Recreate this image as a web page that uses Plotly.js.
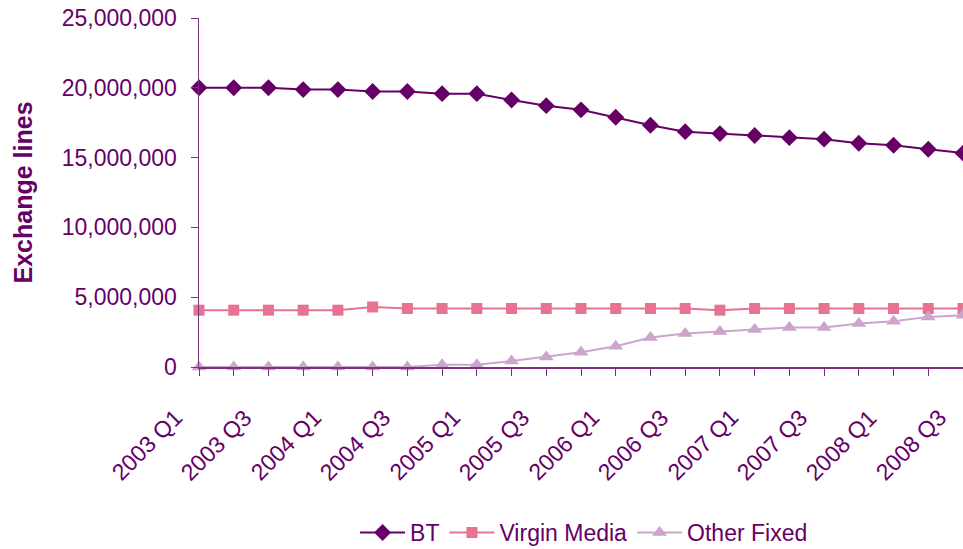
<!DOCTYPE html>
<html>
<head>
<meta charset="utf-8">
<script src="https://cdn.plot.ly/plotly-3.0.1.min.js"></script>
<style>
html,body{margin:0;padding:0;background:#fff;overflow:hidden;}
#chart{width:963px;height:549px;}
</style>
</head>
<body>
<div id="chart"></div>
<script>
var quarters = ["2003 Q1","2003 Q2","2003 Q3","2003 Q4","2004 Q1","2004 Q2","2004 Q3","2004 Q4",
  "2005 Q1","2005 Q2","2005 Q3","2005 Q4","2006 Q1","2006 Q2","2006 Q3","2006 Q4",
  "2007 Q1","2007 Q2","2007 Q3","2007 Q4","2008 Q1","2008 Q2","2008 Q3"];
var tickLabels = ["2003 Q1","","2003 Q3","","2004 Q1","","2004 Q3","","2005 Q1","","2005 Q3","",
  "2006 Q1","","2006 Q3","","2007 Q1","","2007 Q3","","2008 Q1","","2008 Q3"];
var yTitle = "Exchange lines";
var bt = [20000000,20000000,20000000,19870000,19870000,19730000,19730000,19580000,19580000,
  19130000,18720000,18420000,17890000,17320000,16860000,16720000,16580000,16430000,16320000,
  16030000,15890000,15600000,15320000];
var virgin = [4070000,4070000,4070000,4070000,4070000,4300000,4190000,4190000,4190000,4190000,
  4190000,4190000,4190000,4190000,4190000,4070000,4190000,4190000,4190000,4190000,4190000,
  4190000,4190000];
var otherFixed = [0,0,0,0,0,0,0,170000,170000,430000,720000,1050000,1480000,2110000,2400000,
  2540000,2680000,2830000,2830000,3110000,3280000,3590000,3710000];

var textColor = "#660066";
var axisColor = "#7B3080";
var font = "Liberation Sans";

var traces = [
  {x: quarters, y: bt, name: "BT", type: "scatter", mode: "lines+markers", cliponaxis: false,
   line: {color: "#660066", width: 2}, marker: {symbol: "diamond", size: 13, color: "#660066"}},
  {x: quarters, y: virgin, name: "Virgin Media", type: "scatter", mode: "lines+markers", cliponaxis: false,
   line: {color: "#E57391", width: 2}, marker: {symbol: "square", size: 11, color: "#E57391"}},
  {x: quarters, y: otherFixed, name: "Other Fixed", type: "scatter", mode: "lines+markers", cliponaxis: false,
   line: {color: "#CBA5CB", width: 2}, marker: {symbol: "triangle-up", size: 13, color: "#CBA5CB"}}
];

var annotations = [];
for (var i = 0; i < quarters.length; i++) {
  if (tickLabels[i]) {
    annotations.push({x: quarters[i], xref: "x", y: 0, yref: "paper", text: tickLabels[i],
      showarrow: false, textangle: -45, xanchor: "right", yanchor: "top",
      xshift: -9, yshift: -35, font: {family: font, size: 23, color: textColor}});
  }
}
annotations.push({x: -0.2304, xref: "paper", y: 0.5, yref: "paper", text: "<b>" + yTitle + "</b>",
  showarrow: false, textangle: -90, xanchor: "center", yanchor: "middle",
  font: {family: font, size: 25, color: textColor}});

var layout = {
  width: 963, height: 549,
  margin: {l: 199, r: 0, t: 18, b: 182, autoexpand: false},
  paper_bgcolor: "#fff", plot_bgcolor: "#fff",
  font: {family: font, color: textColor, size: 23},
  showlegend: true,
  legend: {orientation: "h", x: 0.504, xanchor: "center", yref: "container", y: 0.03, yanchor: "middle",
    font: {family: font, size: 23, color: textColor}, tracegroupgap: 0, itemwidth: 45},
  annotations: annotations,
  xaxis: {type: "category", categoryorder: "array", categoryarray: quarters, automargin: false,
    range: [0, 22], tickmode: "array", tickvals: quarters, showticklabels: false,
    ticks: "outside", ticklen: 7, tickcolor: axisColor, tickwidth: 1,
    showline: true, linecolor: axisColor, linewidth: 1.5, showgrid: false, zeroline: false},
  yaxis: {range: [0, 25000000], tickmode: "linear", tick0: 0, dtick: 5000000, automargin: false,
    tickformat: ",d", ticks: "outside", ticklen: 7, tickcolor: axisColor, tickwidth: 1,
    ticklabelstandoff: 9,
    showline: true, linecolor: axisColor, linewidth: 1.5, showgrid: false, zeroline: false,
    tickfont: {family: font, size: 23, color: textColor}}
};

Plotly.newPlot("chart", traces, layout, {displayModeBar: false, staticPlot: true});
</script>
</body>
</html>
